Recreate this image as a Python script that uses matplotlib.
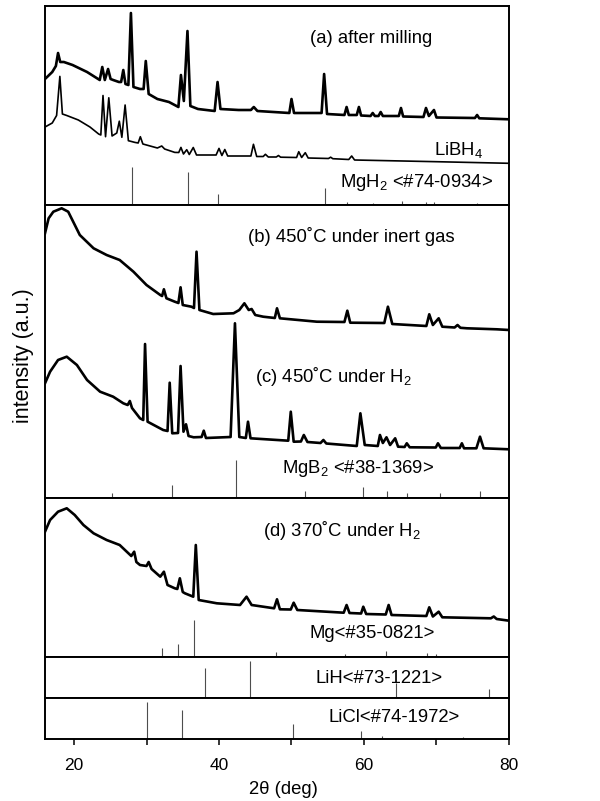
import matplotlib
matplotlib.use("Agg")
import matplotlib.pyplot as plt

plt.rcParams["font.family"] = ["Liberation Sans", "DejaVu Sans"]
plt.rcParams["mathtext.fontset"] = "custom"
plt.rcParams["mathtext.rm"] = "Liberation Sans"
plt.rcParams["mathtext.it"] = "Liberation Sans:italic"

# --- data: (2theta, intensity a.u.) --------------------------------------------
milled = [(16.0, 126), (17.0, 133), (17.5, 139), (17.8, 152), (18.1, 143), (18.6, 143),
          (19.8, 140), (21.8, 133), (23.55, 125), (23.9, 138), (24.25, 125), (24.7, 136),
          (25.05, 126), (25.4, 125), (26.2, 123), (26.5, 123), (26.8, 135), (27.1, 121),
          (27.5, 120), (27.85, 192), (28.2, 118), (29.1, 116), (29.6, 116), (29.9, 144),
          (30.3, 111), (31.5, 106), (33.1, 103), (34.4, 98), (34.75, 130), (35.15, 104),
          (35.65, 174), (36.05, 99), (37.1, 96), (39.4, 94), (39.8, 123), (40.2, 96),
          (42.7, 95), (44.4, 95), (44.8, 98), (45.3, 94), (49.7, 92), (50.0, 106),
          (50.35, 92), (54.15, 92), (54.5, 131), (54.9, 91), (57.3, 90), (57.6, 98),
          (57.9, 90), (59.0, 90), (59.3, 98), (59.6, 89.5), (60.9, 89), (61.2, 92),
          (61.5, 89), (62.0, 89), (62.3, 93), (62.6, 89), (64.8, 89), (65.1, 97),
          (65.4, 88.5), (68.2, 88), (68.55, 97), (68.95, 89), (69.65, 95), (70.0, 87.5),
          (75.3, 87), (75.6, 90), (75.9, 86.7), (80.0, 85.7)]

libh4 = [(16.0, 78), (17.0, 82), (17.6, 89.5), (18.05, 128.6), (18.4, 91), (19.0, 89.5),
         (20.6, 85), (22.2, 78), (23.4, 71), (23.7, 70), (24.0, 109.5), (24.35, 68.3),
         (24.8, 107.2), (25.25, 69), (25.9, 72), (26.25, 83.8), (26.6, 67.7), (27.05, 100),
         (27.5, 64.3), (28.4, 62.6), (28.85, 62), (29.15, 68.3), (29.5, 61), (31.5, 57),
         (32.1, 59), (32.5, 56), (33.9, 52.6), (34.45, 52.5), (34.75, 57.6), (35.1, 51),
         (35.55, 55.3), (35.9, 50.5), (36.45, 57.5), (36.9, 50), (39.6, 50), (40.0, 56.6),
         (40.4, 49.5), (40.8, 55.5), (41.2, 49), (44.4, 49), (44.75, 60.7), (45.2, 48.5),
         (46.1, 48.5), (46.4, 50.7), (46.8, 48), (47.9, 48), (48.2, 49.5), (48.5, 47.8),
         (50.7, 47.5), (51.0, 53.3), (51.4, 47.5), (51.9, 52.3), (52.3, 47), (55.1, 46.5),
         (55.4, 47.8), (55.7, 46.3), (57.9, 45.5), (58.3, 49), (58.7, 45), (70.0, 43.3),
         (80.0, 41.7)]

inert_450 = [(16.0, 264.7), (16.5, 279.7), (17.15, 286.3), (18.3, 289.7), (19.2, 286.3),
             (20.8, 263), (22.7, 249.7), (24.5, 243), (26.3, 238), (28.2, 226.3),
             (30.0, 213), (31.9, 203), (32.15, 202), (32.4, 208.7), (32.75, 199.7),
             (33.9, 196.3), (34.4, 195), (34.7, 210.7), (35.0, 193), (36.2, 191.3),
             (36.55, 190), (36.9, 246.3), (37.3, 188), (39.2, 184), (42.0, 184.7),
             (42.8, 188), (43.5, 194.7), (44.1, 188), (44.5, 189), (45.0, 183),
             (46.1, 181.3), (47.7, 180), (48.0, 189.7), (48.4, 179.7), (53.5, 176.3),
             (57.3, 176), (57.7, 187.3), (58.1, 175.3), (62.8, 175), (63.3, 191.3),
             (63.9, 174), (68.6, 172), (69.0, 183.7), (69.5, 173), (70.3, 179.7),
             (70.8, 171.3), (72.5, 170.5), (72.9, 173), (73.3, 170.2), (74.2, 169.7),
             (78.3, 168.7), (80.0, 168)]

h2_450 = [(16.0, 114.7), (16.7, 126.3), (17.8, 138), (19.0, 141.3), (20.4, 133),
          (21.8, 118), (23.6, 106.3), (25.4, 101.3), (26.8, 94.7), (27.4, 93), (27.7, 97),
          (28.0, 90), (29.1, 79.7), (29.55, 78), (29.8, 154), (30.15, 76.3), (32.3, 68),
          (32.9, 67), (33.2, 115.3), (33.55, 64.7), (34.35, 65), (34.7, 132), (35.1, 66.3),
          (35.45, 73.7), (35.8, 62), (36.5, 60.7), (37.6, 61), (37.9, 67.3), (38.2, 60),
          (41.6, 61), (42.2, 174.7), (42.8, 61), (43.7, 60), (44.0, 76.3), (44.35, 59.7),
          (49.55, 57.3), (49.9, 86.3), (50.3, 56.3), (51.3, 56.5), (51.7, 63), (52.2, 56),
          (54.0, 55), (54.4, 58), (54.8, 54.5), (59.0, 52), (59.5, 84.7), (60.1, 53),
          (61.9, 52), (62.2, 63), (62.6, 55), (63.1, 60.7), (63.6, 53), (64.3, 59.7),
          (64.7, 51.3), (65.6, 51), (65.9, 54.7), (66.3, 50.7), (69.9, 50.5), (70.2, 54.7),
          (70.6, 50), (73.2, 50), (73.5, 54.7), (73.8, 49.7), (75.5, 49.7), (76.0, 61.3),
          (76.5, 49.7), (80.0, 48.7)]

h2_370 = [(16.0, 125.3), (16.7, 137), (17.8, 145.3), (19.0, 148.7), (20.1, 142),
          (21.3, 132), (22.7, 123.7), (24.5, 117), (26.3, 112), (27.9, 101), (28.3, 105.3),
          (28.6, 95), (29.1, 92), (30.0, 91), (30.3, 95), (30.7, 88), (31.9, 80.3),
          (32.4, 85.3), (32.9, 72), (33.9, 68.7), (34.25, 68), (34.6, 78.7), (35.0, 65),
          (35.3, 63.7), (36.45, 60.3), (36.8, 112), (37.2, 57), (39.7, 53.7), (42.9, 52),
          (43.8, 60.3), (44.5, 52), (47.6, 48.7), (48.0, 57.7), (48.4, 47.7), (49.9, 47.5),
          (50.3, 54.3), (50.8, 47), (57.2, 44.3), (57.6, 52), (58.0, 44), (59.6, 43.5),
          (59.9, 50.3), (60.3, 43), (63.0, 42.5), (63.4, 52), (63.8, 42), (68.6, 41),
          (69.0, 49.7), (69.5, 40.5), (70.3, 45.3), (70.8, 39.7), (77.5, 38.7), (77.9, 40.5),
          (78.3, 38), (80.0, 36.3)]

# reference stick patterns (JCPDS)
mgh2_pos = [27.95, 35.75, 39.85, 54.6, 57.7, 61.2, 65.3, 68.6, 69.6, 75.6]
mgh2_int = [38, 33, 11, 17, 3.3, 2.5, 4.3, 3.3, 3.3, 2.5]
mgb2_pos = [25.3, 33.45, 42.4, 51.8, 59.85, 63.2, 66.0, 70.5, 76.05]
mgb2_int = [5, 12.7, 38.3, 7.3, 10.7, 7.3, 5, 5, 7.3]
mg_pos = [32.2, 34.4, 36.6, 47.8, 57.4, 63.1, 68.65, 70.0]
mg_int = [9, 13.3, 37.3, 5, 3.3, 5.7, 4.3, 2.7]
lih_pos = [38.1, 44.3, 64.4, 77.2]
lih_int = [30.3, 37, 15, 9.3]
licl_pos = [30.0, 34.85, 50.2, 59.6, 62.5, 73.7]
licl_int = [36.7, 29, 14.3, 7.7, 2.7, 1.7]

# --- layout: panel (top, bottom) in pixels of the 600x801 image -----------------
W, H = 600, 801
X0, X1 = 45, 509
panels = [(6, 205), (205, 498), (498, 657), (657, 698), (698, 738.5)]

fig = plt.figure(figsize=(W / 100, H / 100), dpi=100)
axes = []
for top, bot in panels:
    ax = fig.add_axes([X0 / W, 1 - bot / H, (X1 - X0) / W, (bot - top) / H])
    ax.set_xlim(16, 80)
    ax.set_ylim(0, bot - top)
    ax.set_yticks([])
    ax.set_xticks([])
    for s in ax.spines.values():
        s.set_linewidth(1.4)
    axes.append(ax)
axA, axBC, axD, axLiH, axLiCl = axes


def curve(ax, pts, lw=1.9):
    tt, ii = zip(*pts)
    ax.plot(tt, ii, color="black", lw=lw, solid_joinstyle="round")


def sticks(ax, pos, inten):
    ax.vlines(pos, 0, inten, color="0.3", lw=0.8)


fs = 13.3
curve(axA, milled)
curve(axA, libh4, lw=1.2)
sticks(axA, mgh2_pos, mgh2_int)
axA.text(0.571, 0.814, "(a) after milling", transform=axA.transAxes, fontsize=fs, va="baseline")
axA.text(0.944, 0.251, "LiBH$_4$", transform=axA.transAxes, fontsize=fs, va="baseline", ha="right")
axA.text(0.636, 0.0905, "MgH$_2$ <#74-0934>", transform=axA.transAxes, fontsize=fs, va="baseline")

curve(axBC, inert_450)
curve(axBC, h2_450)
sticks(axBC, mgb2_pos, mgb2_int)
axBC.text(0.4375, 0.874, "(b) 450˚C under inert gas", transform=axBC.transAxes, fontsize=fs, va="baseline")
axBC.text(0.4526, 0.396, "(c) 450˚C under H$_2$", transform=axBC.transAxes, fontsize=fs, va="baseline")
axBC.text(0.511, 0.0853, "MgB$_2$ <#38-1369>", transform=axBC.transAxes, fontsize=fs, va="baseline")

curve(axD, h2_370)
sticks(axD, mg_pos, mg_int)
axD.text(0.470, 0.761, "(d) 370˚C under H$_2$", transform=axD.transAxes, fontsize=fs, va="baseline")
axD.text(0.569, 0.119, "Mg<#35-0821>", transform=axD.transAxes, fontsize=fs, va="baseline")

sticks(axLiH, lih_pos, lih_int)
axLiH.text(0.584, 0.366, "LiH<#73-1221>", transform=axLiH.transAxes, fontsize=fs, va="baseline")

sticks(axLiCl, licl_pos, licl_int)
axLiCl.text(0.61, 0.407, "LiCl<#74-1972>", transform=axLiCl.transAxes, fontsize=fs, va="baseline")

axLiCl.set_xticks([20, 40, 60, 80])
axLiCl.set_xticks([30, 50, 70], minor=True)
axLiCl.tick_params(axis="x", which="both", direction="out", length=4, width=1.1,
                   labelsize=12.5, pad=10)

fig.text(283 / W, 1 - 789 / H, "2θ (deg)", fontsize=13.3, ha="center", va="center")
fig.text(23 / W, 1 - 356 / H, "intensity (a.u.)", fontsize=15.5, rotation=90,
         ha="center", va="center")

fig.savefig("out.png", dpi=100)
